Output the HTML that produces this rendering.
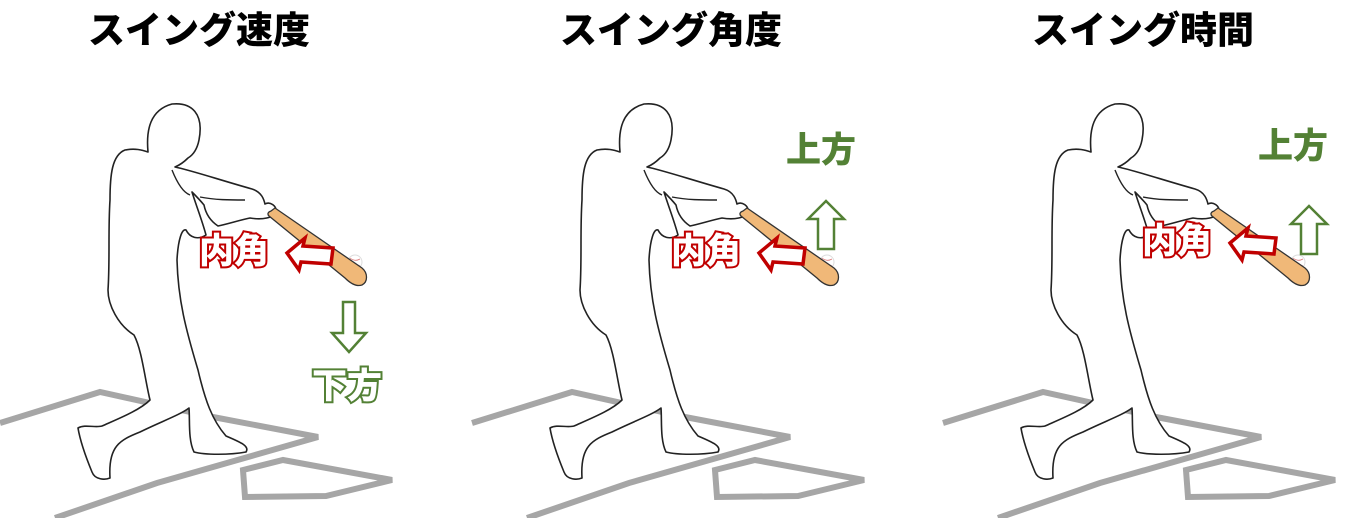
<!DOCTYPE html>
<html><head><meta charset="utf-8">
<style>
html,body{margin:0;padding:0;background:#fff;}
svg{display:block;}
.t{font-family:"Liberation Sans","Noto Sans CJK JP",sans-serif;font-weight:900;}
</style></head>
<body>
<svg width="1357" height="518" viewBox="0 0 1357 518" xmlns="http://www.w3.org/2000/svg">
<defs>
<g id="base">
  <polyline points="0,423 100,392 213,417 318,437 157,483 55,518" fill="none" stroke="#a6a6a6" stroke-width="6" stroke-linejoin="miter"/>
  <polygon points="243,470 283,460 392,480 326,496 245,497" fill="none" stroke="#a6a6a6" stroke-width="6"/>
  <path d="M148,152 C146,130 150,110 172,104 C192,102 204,114 199,140 C197,150 193,155 188,158 C184,162 180,165 175,167
           C190,170 220,180 252,189 C262,192 264,200 265,204 C270,201 277,206 276,212 C274,218 262,220 250,218
           C240,220 228,224 218,226 C212,222 206,215 204,205 C200,200 196,196 192,192
           C196,205 202,220 206,235 C198,240 190,238 186,230 C182,228 178,240 177,260
           C178,300 186,330 198,370 C205,400 212,420 226,436 C240,442 250,446 246,452
           C230,455 205,455 194,452 C188,440 190,420 189,408
           C180,415 160,422 140,432 C120,440 108,446 110,478 C105,480 95,480 92,472
           C85,455 80,440 78,428 C85,424 95,428 102,426 C120,418 140,410 150,400
           C145,380 142,350 134,335 C118,325 108,305 108,290 C110,260 108,230 110,200
           C110,175 112,155 125,150 C135,148 142,150 148,152 Z"
        fill="#fff" stroke="#222" stroke-width="1.6" stroke-linejoin="round"/>
  <path d="M172,170 C176,180 182,192 190,195 M200,197 C215,200 230,200 245,200" fill="none" stroke="#222" stroke-width="1.4"/>
  <circle cx="355" cy="262" r="7" fill="#fff" stroke="#ddd" stroke-width="1"/>
  <path d="M350,258 q5,4 10,1 M350,266 q5,-3 10,0" fill="none" stroke="#d77" stroke-width="0.8"/>
  <path d="M271,211 L275,208 L362,268 C368,273 368,282 362,285 C356,287 350,283 345,278 L269,216 C267,214 268,212 271,211 Z"
        fill="#f0b878" stroke="#333" stroke-width="1.3"/>
</g>
<g id="red">
  <polygon points="287,253 305,238 303,246 333,248 331,264 301,262 299,270" fill="#fff" stroke="#c00000" stroke-width="3.5" stroke-linejoin="miter"/>
  <text x="199" y="263" class="t" font-size="35" fill="#fff" stroke="#c00000" stroke-width="4" style="paint-order:stroke">内角</text>
</g>
</defs>

<text x="199" y="43" class="t" font-size="37" text-anchor="middle" fill="#000">スイング速度</text>
<text x="671" y="43" class="t" font-size="37" text-anchor="middle" fill="#000">スイング角度</text>
<text x="1143" y="43" class="t" font-size="37" text-anchor="middle" fill="#000">スイング時間</text>

<use href="#base"/>
<use href="#red"/>
<use href="#base" transform="translate(472,0)"/>
<use href="#red" transform="translate(472,0)"/>
<use href="#base" transform="translate(943,0)"/>
<use href="#red" transform="translate(943,-10)"/>

<polygon points="343,302 355,302 355,333 366,333 349,352 332,333 343,333" fill="#fff" stroke="#538135" stroke-width="2.5"/>
<text x="312" y="398" class="t" font-size="35" fill="#fff" stroke="#538135" stroke-width="4" style="paint-order:stroke">下方</text>

<polygon points="826,201 844,219 834,219 834,249 818,249 818,219 808,219" fill="#fff" stroke="#538135" stroke-width="2.5"/>
<text x="786" y="162" class="t" font-size="35" fill="#538135">上方</text>

<polygon points="1309,206 1327,224 1317,224 1317,254 1301,254 1301,224 1291,224" fill="#fff" stroke="#538135" stroke-width="2.5"/>
<text x="1258" y="158" class="t" font-size="35" fill="#538135">上方</text>
</svg>
</body></html>
